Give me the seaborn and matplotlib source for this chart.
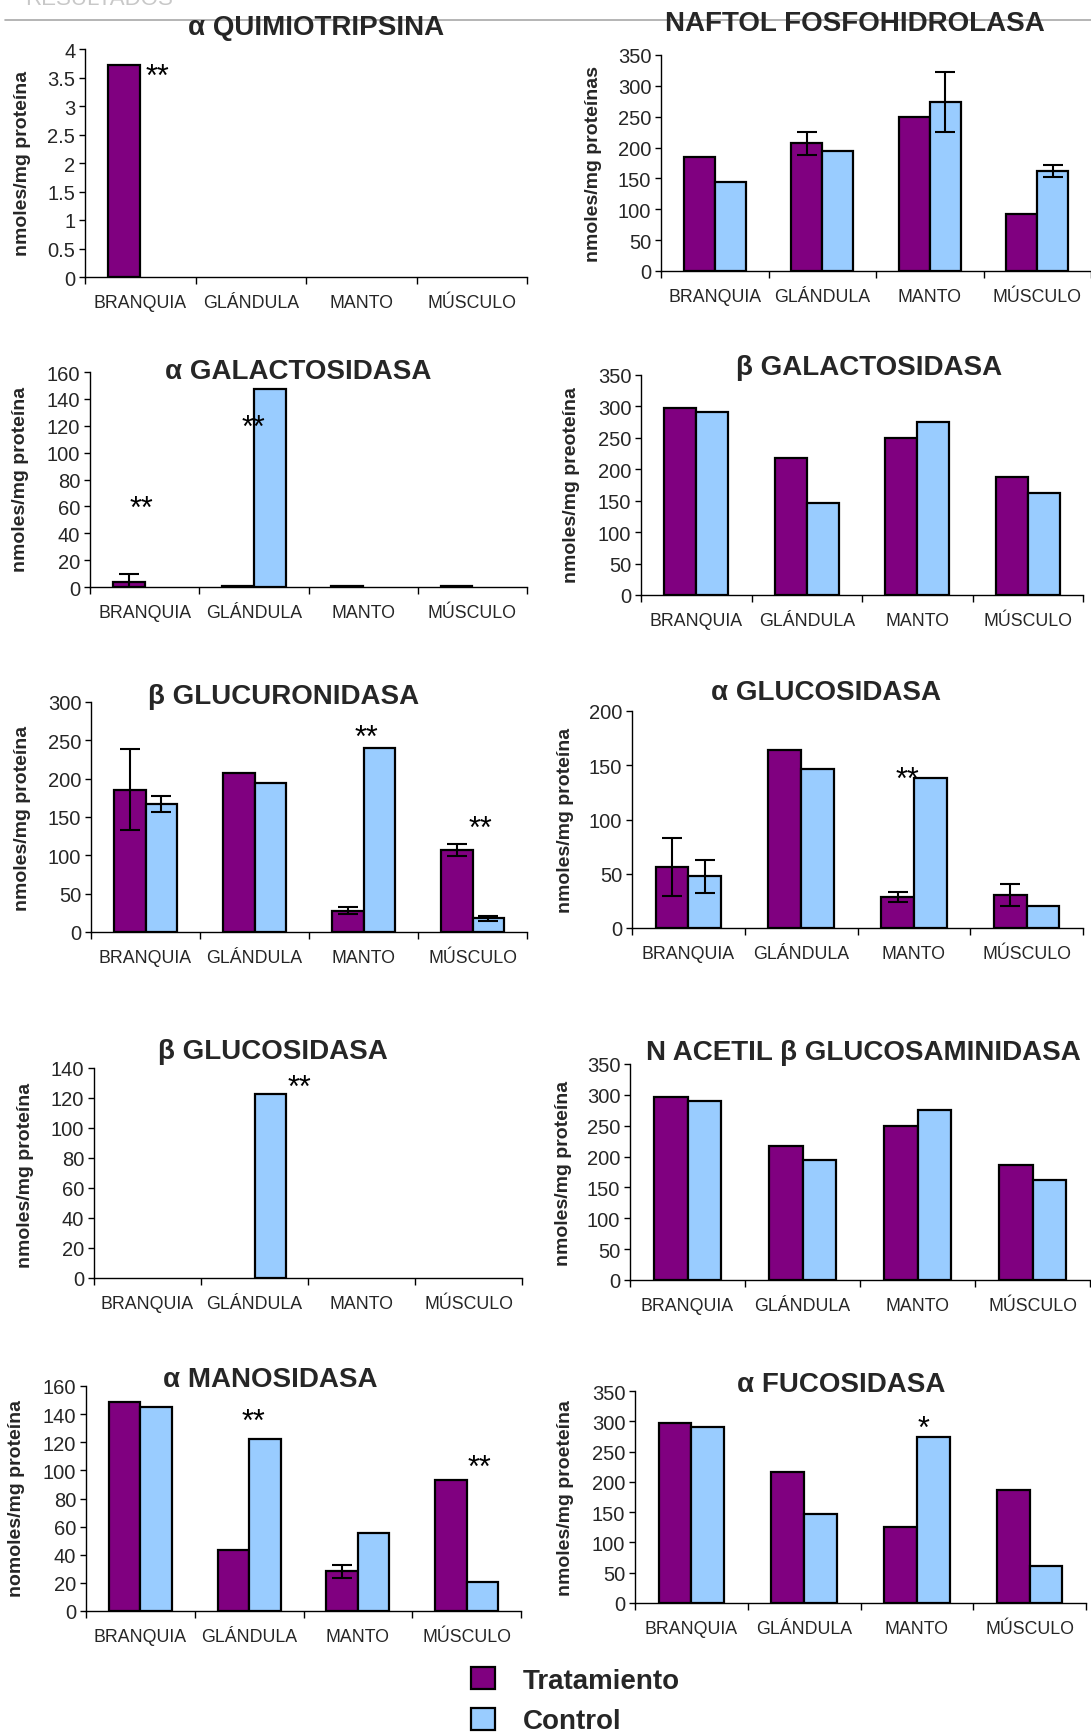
import numpy as np
import pandas as pd
import seaborn as sns
import matplotlib.pyplot as plt
from matplotlib.lines import Line2D
from matplotlib.ticker import FixedLocator

# categorias y series
tejidos = ["BRANQUIA", "GLÁNDULA", "MANTO", "MÚSCULO"]
grupos = ["Tratamiento", "Control"]
colores = ["#800080", "#99CCFF"]

titulos = ["α QUIMIOTRIPSINA", "NAFTOL FOSFOHIDROLASA",
           "α GALACTOSIDASA", "β GALACTOSIDASA",
           "β GLUCURONIDASA", "α GLUCOSIDASA",
           "β GLUCOSIDASA", "N ACETIL β GLUCOSAMINIDASA",
           "α MANOSIDASA", "α FUCOSIDASA"]

ylabels = ["nmoles/mg proteína", "nmoles/mg proteínas",
           "nmoles/mg proteína", "nmoles/mg preoteína",
           "nmoles/mg proteína", "nmoles/mg proteína",
           "nmoles/mg proteína", "nmoles/mg proteína",
           "nomoles/mg proteína", "nmoles/mg proeteína"]

tratamiento = [
    [3.72, 0, 0, 0],
    [185.5, 206.6, 249, 93],
    [4, 0.5, 0.5, 0.5],
    [297.5, 218, 249, 187],
    [185.8, 207, 28, 107],
    [55.8, 163.8, 28.2, 30.4],
    [0, 0, 0, 0],
    [297, 217.4, 248.8, 186.6],
    [148.8, 43.6, 28.2, 93.4],
    [297.8, 217, 124.7, 186.8],
]
control = [
    [0, 0, 0, 0],
    [145, 195, 274, 162],
    [0, 147, 0, 0],
    [290.6, 147, 274.7, 162],
    [167, 195, 240, 18],
    [47.5, 147, 138, 20],
    [0, 122.4, 0, 0],
    [290.4, 195.2, 274.7, 162.8],
    [145.3, 122.5, 55.2, 20.4],
    [290.7, 147, 274.7, 61],
]
err_tratamiento = [
    [0, 0, 0, 0],
    [0, 19, 0, 0],
    [5.5, 0, 0, 0],
    [0, 0, 0, 0],
    [53, 0, 5, 7.5],
    [26.7, 0, 4.6, 10],
    [0, 0, 0, 0],
    [0, 0, 0, 0],
    [0, 0, 4.5, 0],
    [0, 0, 0, 0],
]
err_control = [
    [0, 0, 0, 0],
    [0, 0, 49, 9],
    [0, 0, 0, 0],
    [0, 0, 0, 0],
    [10, 0, 0, 3.5],
    [15, 0, 0, 0],
    [0, 0, 0, 0],
    [0, 0, 0, 0],
    [0, 0, 0, 0],
    [0, 0, 0, 0],
]
ymax = [4, 350, 160, 350, 300, 200, 140, 350, 160, 350]
ystep = [0.5, 50, 20, 50, 50, 50, 20, 50, 20, 50]

# asteriscos: (panel, tejido, desplazamiento, valor y, texto)
asteriscos = [
    (0, 0, 0.16, 3.68, "**"),
    (2, 0, -0.03, 65, "**"),
    (2, 1, 0.0, 125, "**"),
    (4, 2, 0.03, 265, "**"),
    (4, 3, 0.07, 147, "**"),
    (5, 2, -0.06, 145, "**"),
    (6, 1, 0.42, 133, "**"),
    (8, 1, 0.04, 141, "**"),
    (8, 3, 0.12, 108.6, "**"),
    (9, 2, 0.06, 303, "*"),
]

# posiciones en pixeles (izq, arriba, der, abajo)
cajas = [
    (85, 50, 527, 278), (661, 56, 1091, 272),
    (90, 373, 527, 588), (641, 376, 1083, 596),
    (91, 703, 527, 933), (632, 712, 1083, 929),
    (94, 1069, 522, 1279), (630, 1065, 1090, 1281),
    (86, 1387, 521, 1612), (635, 1392, 1086, 1604),
]
pos_titulo = [(316, 28), (855, 24), (298, 372), (869, 368), (284, 697),
              (826, 693), (273, 1052), (863, 1053), (270, 1380), (841, 1385)]
pos_ylabel = [(23, 163), (593, 164), (21, 479), (572, 485), (23, 818),
              (565, 820), (26, 1175), (563, 1173), (17, 1499), (566, 1498)]

W, H = 1091, 1733

sns.set_theme(style="white")
plt.rcParams['font.family'] = ['Liberation Sans', 'DejaVu Sans']

fig = plt.figure(figsize=(W / 100, H / 100), dpi=100)

# encabezado de la pagina (cortado arriba, como en el original)
fig.text(25 / W, 1 - 5 / H, "RESULTADOS", fontsize=16, color="#c8c8c8",
         ha="left", va="baseline")
fig.add_artist(Line2D([5 / W, 1], [1 - 21 / H, 1 - 21 / H], color="#a8a8a8",
                      lw=1.2, transform=fig.transFigure))

for i in range(10):
    l, t, r, b = cajas[i]
    ax = fig.add_axes([l / W, 1 - b / H, (r - l) / W, (b - t) / H])
    ax.set_facecolor("none")

    df = pd.DataFrame({
        "tejido": tejidos * 2,
        "grupo": [grupos[0]] * 4 + [grupos[1]] * 4,
        "valor": tratamiento[i] + control[i],
    })
    sns.barplot(data=df, x="tejido", y="valor", hue="grupo", order=tejidos,
                hue_order=grupos, palette=colores, edgecolor="black",
                linewidth=1.6, width=0.58, errorbar=None, legend=False,
                saturation=1, ax=ax)

    for p in ax.patches:
        if p.get_height() == 0:
            p.set_visible(False)

    # barras de error
    for cont, errs in zip(ax.containers, [err_tratamiento[i], err_control[i]]):
        for p, v, e in zip(cont, cont.datavalues, errs):
            if e > 0:
                ax.errorbar(p.get_x() + p.get_width() / 2, v, yerr=e,
                            color="black", lw=1.5, capsize=7.5, capthick=1.5,
                            zorder=5)

    for (k, c, dx, yv, txt) in asteriscos:
        if k == i:
            ax.annotate(txt, (c + dx, yv), xytext=(0, -12.5),
                        textcoords="offset points", ha="center",
                        va="baseline", fontsize=22, color="black",
                        annotation_clip=False)

    ax.set_xlim(-0.5, 3.5)
    ax.set_ylim(0, ymax[i])
    yt = np.arange(0, ymax[i] + ystep[i] / 2, ystep[i])
    ax.set_yticks(yt)
    ax.set_yticklabels([("%g" % v) for v in yt], fontsize=14.5)
    ax.set_xticks(range(4))
    ax.set_xticklabels(tejidos, fontsize=12.8)
    ax.xaxis.set_minor_locator(FixedLocator([-0.5, 0.5, 1.5, 2.5, 3.5]))
    ax.tick_params(axis="x", which="major", length=0, pad=12)
    ax.tick_params(axis="x", which="minor", length=5, width=1, color="black",
                   bottom=True)
    ax.tick_params(axis="y", which="major", length=4, width=1, color="black",
                   pad=3, left=True)
    ax.set_xlabel("")
    ax.set_ylabel("")
    for s in ["top", "right"]:
        ax.spines[s].set_visible(False)
    for s in ["left", "bottom"]:
        ax.spines[s].set_color("black")
        ax.spines[s].set_linewidth(1)

    tx, ty = pos_titulo[i]
    fig.text(tx / W, 1 - ty / H, titulos[i], fontsize=20, fontweight="bold",
             ha="center", va="center")
    lx, ly = pos_ylabel[i]
    fig.text(lx / W, 1 - ly / H, ylabels[i], fontsize=14, fontweight="bold",
             rotation=90, ha="center", va="center")

# leyenda
handles = ax.containers[0].patches[:1] + ax.containers[1].patches[:1]
leg = fig.legend(handles, grupos, loc="upper left",
                 bbox_to_anchor=(471 / W, 1 - 1668 / H), frameon=False,
                 prop={"size": 20, "weight": "bold"}, handlelength=0.85,
                 handleheight=0.85, handletextpad=1.0, labelspacing=0.5,
                 borderpad=0, borderaxespad=0)

fig.savefig("out.png", dpi=100)
